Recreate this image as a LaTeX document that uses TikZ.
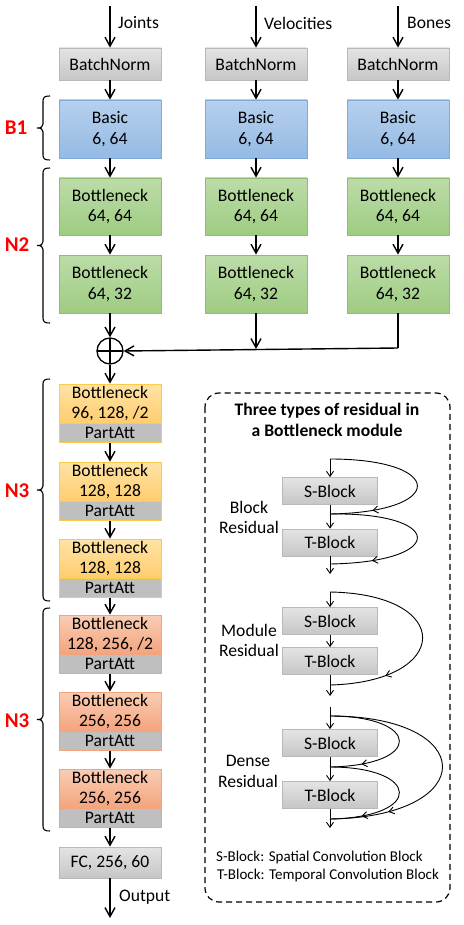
\documentclass[tikz,border=0pt]{standalone}
\usepackage{fontspec}
\setmainfont{Carlito}
\usetikzlibrary{arrows.meta,decorations.markings}
\newcommand\fsA{\fontsize{17.6}{20.8}\selectfont}
\newcommand\fsB{\fontsize{15}{17}\selectfont}
\newcommand\fsC{\fontsize{21}{24}\selectfont\bfseries}
\definecolor{gT}{HTML}{E4E4E4}
\definecolor{gB}{HTML}{C6C6C6}
\definecolor{gD}{HTML}{B8B8B8}
\definecolor{bT}{HTML}{B6D0EE}
\definecolor{bB}{HTML}{95BAE4}
\definecolor{bD}{HTML}{7EA9DA}
\definecolor{nT}{HTML}{BCDCA8}
\definecolor{nB}{HTML}{9ECC82}
\definecolor{nD}{HTML}{8CC070}
\definecolor{oT}{HTML}{FFE3A6}
\definecolor{oB}{HTML}{FFCD6E}
\definecolor{oD}{HTML}{FFC94A}
\definecolor{rT}{HTML}{F9CDB4}
\definecolor{rB}{HTML}{F4A47E}
\definecolor{rD}{HTML}{F2A57C}
\definecolor{paF}{HTML}{BFBFBF}
\definecolor{redlab}{HTML}{FF0000}
\newcommand\bracketL[2]{%
  \pgfmathsetmacro\bmid{(#1+#2)/2}%
  \draw[line width=1.1pt] (50,#1) .. controls (45,#1) and (43,#1+1) .. (43,#1+5)
    -- (43,\bmid-4) .. controls (43,\bmid-1) and (41,\bmid) .. (37,\bmid)
    .. controls (41,\bmid) and (43,\bmid+1) .. (43,\bmid+4)
    -- (43,#2-5) .. controls (43,#2-1) and (45,#2) .. (50,#2);}
\begin{document}
\begin{tikzpicture}[x=1pt,y=-1pt,
  arr/.style={line width=1.4pt,-{Straight Barb[length=9pt,width=10pt,line width=1.4pt]}},
  sarr/.style={line width=0.9pt,-{Straight Barb[length=5pt,width=7pt,line width=0.9pt]}},
  box/.style={minimum width=102pt, inner sep=0pt, align=center, font=\fsA, line width=0.8pt},
  gbox/.style={box, top color=gT, bottom color=gB, draw=gD},
  bbox/.style={box, top color=bT, bottom color=bB, draw=bD},
  nbox/.style={box, top color=nT, bottom color=nB, draw=nD},
  obox/.style={box, minimum height=39pt, top color=oT, bottom color=oB, draw=oD},
  rbox/.style={box, minimum height=39pt, top color=rT, bottom color=rB, draw=rD},
  pa/.style={box, minimum height=19pt, fill=paF},
  sbox/.style={minimum width=95pt, minimum height=27pt, inner sep=0pt, font=\fsA,
     top color=gT, bottom color=gB, draw=gD, line width=0.8pt},
  lab/.style={font=\fsA, inner sep=0pt},
  grp/.style={font=\fsC, text=redlab, inner sep=0pt},
  res/.style={line width=0.9pt, postaction={decorate},
     decoration={markings, mark=at position #1 with {\arrow{Straight Barb[length=5pt,width=7pt,line width=0.9pt]}}}},
  res/.default=0.8
]
\useasboundingbox (0,0) rectangle (463,925);

% inputs
\coordinate (in1) at (110,6);
\coordinate (in2) at (256,6);
\coordinate (in3) at (398,6);
\node[lab, anchor=west] (lj) at (118,23) {Joints};
\node[lab, anchor=west] (lv) at (264,23) {Velocities};
\node[lab, anchor=west] (lb) at (407,23) {Bones};

\foreach \c/\x in {1/110, 2/256, 3/398} {
  \node[gbox, minimum height=32pt] (bn\c) at (\x,64) {BatchNorm};
  \node[bbox, minimum height=58pt] (ba\c) at (\x,129) {Basic\\6, 64};
  \node[nbox, minimum height=57pt] (bt\c) at (\x,206.5) {Bottleneck\\64, 64};
  \node[nbox, minimum height=58pt] (bu\c) at (\x,284) {Bottleneck\\64, 32};
  \draw[arr] (in\c) -- (bn\c.north);
  \draw[arr] (bn\c.south) -- (ba\c.north);
  \draw[arr] (ba\c.south) -- (bt\c.north);
  \draw[arr] (bt\c.south) -- (bu\c.north);
}

% merge
\node[circle, draw, line width=1.3pt, minimum size=26pt, inner sep=0pt,
  path picture={\draw[line width=1.3pt] (path picture bounding box.north) -- (path picture bounding box.south)
  (path picture bounding box.west) -- (path picture bounding box.east);}] (add) at (110,351) {};
\coordinate (j2) at (256,349);
\coordinate (j3) at (398,348);
\draw[arr] (bu1.south) -- (add.north);
\draw[arr] (bu2.south) -- (j2);
\draw[line width=1.4pt] (bu3.south) -- (j3);
\draw[arr] (j3) -- (add.east);

% N3 stages
\node[obox] (o1) at (110,403.5) {Bottleneck\\96, 128, /2};
\node[pa, draw=oD, anchor=north] (p1) at (o1.south) {PartAtt};
\node[obox] (o2) at (110,481.5) {Bottleneck\\128, 128};
\node[pa, draw=oD, anchor=north] (p2) at (o2.south) {PartAtt};
\node[obox] (o3) at (110,558.5) {Bottleneck\\128, 128};
\node[pa, draw=oD, anchor=north] (p3) at (o3.south) {PartAtt};
\node[rbox] (r1) at (110,634.5) {Bottleneck\\128, 256, /2};
\node[pa, draw=rD, anchor=north] (q1) at (r1.south) {PartAtt};
\node[rbox] (r2) at (110,711.5) {Bottleneck\\256, 256};
\node[pa, draw=rD, anchor=north] (q2) at (r2.south) {PartAtt};
\node[rbox] (r3) at (110,788.5) {Bottleneck\\256, 256};
\node[pa, draw=rD, anchor=north] (q3) at (r3.south) {PartAtt};
\node[gbox, minimum height=31pt] (fc) at (110,862.5) {FC, 256, 60};
\coordinate (out) at (110,918);
\node[lab, anchor=west] (lo) at (119,897) {Output};

\draw[arr] (add.south) -- (o1.north);
\draw[arr] (p1.south) -- (o2.north);
\draw[arr] (p2.south) -- (o3.north);
\draw[arr] (p3.south) -- (r1.north);
\draw[arr] (q1.south) -- (r2.north);
\draw[arr] (q2.south) -- (r3.north);
\draw[arr] (q3.south) -- (fc.north);
\draw[arr] (fc.south) -- (out);

% brackets and group labels
\bracketL{96}{160}
\bracketL{168}{323}
\bracketL{379}{601}
\bracketL{608}{831}
\node[grp] (g1) at (16,128) {B1};
\node[grp] (g2) at (17,245) {N2};
\node[grp] (g3) at (17,491) {N3};
\node[grp] (g4) at (17,721) {N3};

% residual legend box
\draw[dashed, dash pattern=on 6pt off 4pt, line width=1.2pt, rounded corners=14pt] (205,393) rectangle (450,902);
\node[font=\fsA\bfseries, align=center, inner sep=0pt] (title) at (327,420) {Three types of residual in\\a Bottleneck module};

% block residual
\coordinate (a0) at (330,459);
\node[sbox] (as) at (330,491) {S-Block};
\coordinate (a1) at (330,514);
\node[sbox] (at) at (330,542.5) {T-Block};
\coordinate (a2) at (330,564);
\coordinate (a3) at (330,574);
\draw[sarr] (a0) -- (as.north);
\draw[sarr] (as.south) -- (at.north);
\draw[sarr] (at.south) -- (a3);
\draw[res=0.78] (a0) .. controls (445,459) and (448,512) .. (a1);
\draw[res=0.78] (a1) .. controls (445,512) and (448,562) .. (a2);
\node[lab, align=center] (la) at (249,517.5) {Block\\Residual};

% module residual
\coordinate (m0) at (330,592);
\node[sbox] (ms) at (330,621) {S-Block};
\node[sbox] (mt) at (330,661) {T-Block};
\coordinate (m2) at (330,685);
\coordinate (m3) at (330,696);
\draw[sarr] (m0) -- (ms.north);
\draw[sarr] (ms.south) -- (mt.north);
\draw[sarr] (mt.south) -- (m3);
\draw[res=0.75] (m0) .. controls (455,594) and (452,682) .. (m2);
\node[lab, align=center] (lm) at (249,640.5) {Module\\Residual};

% dense residual
\coordinate (dt) at (330,707);
\coordinate (d0) at (330,716);
\node[sbox] (ds) at (330,743) {S-Block};
\coordinate (d1) at (330,767);
\node[sbox] (dtb) at (330,795) {T-Block};
\coordinate (d2) at (330,819);
\coordinate (d3) at (330,828);
\draw[sarr] (dt) -- (ds.north);
\draw[sarr] (ds.south) -- (dtb.north);
\draw[sarr] (dtb.south) -- (d3);
\draw[res=0.8] (d0) .. controls (420,716) and (425,765) .. (d1);
\draw[res=0.8] (d1) .. controls (420,767) and (425,817) .. (d2);
\draw[res=0.78] (d0) .. controls (480,716) and (480,817) .. (d2);
\node[lab, align=center] (ld) at (248,771.5) {Dense\\Residual};

\node[font=\fsB, anchor=west, inner sep=0pt] (f1) at (216,857) {S-Block: Spatial Convolution Block};
\node[font=\fsB, anchor=west, inner sep=0pt] (f2) at (217,875) {T-Block: Temporal Convolution Block};
\end{tikzpicture}
\end{document}
